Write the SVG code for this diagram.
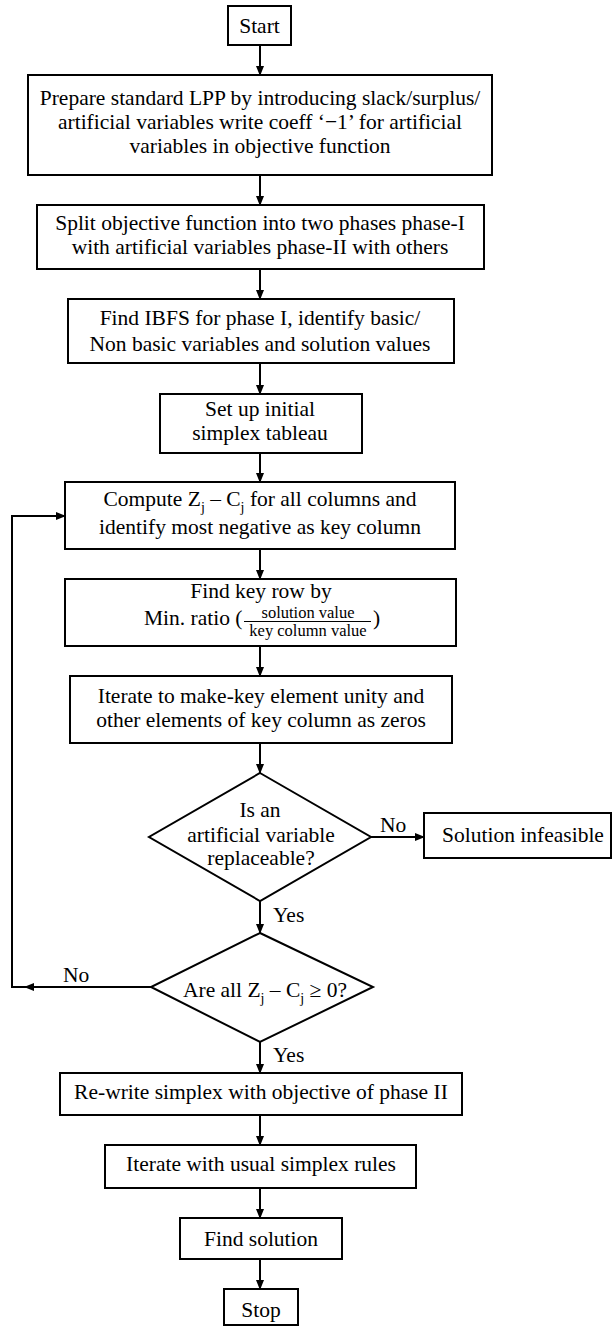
<svg xmlns="http://www.w3.org/2000/svg" width="612" height="1327" viewBox="0 0 612 1327">
<style>
.box{fill:#fff;stroke:#000;stroke-width:2}
.t{font-family:"Liberation Serif","Times New Roman",serif;font-size:21.5px;fill:#000}
.c{text-anchor:middle}
.f{font-family:"Liberation Serif","Times New Roman",serif;font-size:16.5px;fill:#000;text-anchor:middle}
.ln{fill:none;stroke:#000;stroke-width:2}
</style>
<defs>
<marker id="ah" markerUnits="userSpaceOnUse" markerWidth="10" markerHeight="8" refX="9" refY="4" orient="auto">
<path d="M0,0 L10,4 L0,8 Z" fill="#000"/>
</marker>
</defs>
<rect width="612" height="1327" fill="#fff"/>
<g id="connectors">
<line class="ln" x1="260" y1="45" x2="260" y2="75" marker-end="url(#ah)"/>
<line class="ln" x1="260" y1="175" x2="260" y2="205" marker-end="url(#ah)"/>
<line class="ln" x1="260" y1="269" x2="260" y2="299" marker-end="url(#ah)"/>
<line class="ln" x1="260" y1="363" x2="260" y2="394" marker-end="url(#ah)"/>
<line class="ln" x1="260" y1="453" x2="260" y2="482" marker-end="url(#ah)"/>
<line class="ln" x1="260" y1="549" x2="260" y2="579" marker-end="url(#ah)"/>
<line class="ln" x1="260" y1="646" x2="260" y2="676" marker-end="url(#ah)"/>
<line class="ln" x1="260" y1="743" x2="260" y2="773" marker-end="url(#ah)"/>
<line class="ln" x1="371" y1="837" x2="424" y2="837" marker-end="url(#ah)"/>
<line class="ln" x1="260" y1="901" x2="260" y2="933" marker-end="url(#ah)"/>
<path class="ln" d="M151,987 H12 V516 H65" marker-end="url(#ah)"/>
<path d="M24,987 L34,983 L34,991 Z" fill="#000"/>
<line class="ln" x1="260" y1="1042" x2="260" y2="1073" marker-end="url(#ah)"/>
<line class="ln" x1="260" y1="1115" x2="260" y2="1145" marker-end="url(#ah)"/>
<line class="ln" x1="260" y1="1188" x2="260" y2="1218" marker-end="url(#ah)"/>
<line class="ln" x1="260" y1="1259" x2="260" y2="1289" marker-end="url(#ah)"/>
<text class="t" x="380" y="832">No</text>
<text class="t" x="273" y="922">Yes</text>
<text class="t" x="63" y="982">No</text>
<text class="t" x="273" y="1062">Yes</text>
</g>
<g id="start">
<rect class="box" x="228" y="6" width="63" height="39"/>
<text class="t c" x="259.5" y="33">Start</text>
</g>
<g id="prepare">
<rect class="box" x="28" y="75" width="464" height="100"/>
<text class="t c" x="260" y="105">Prepare standard LPP by introducing slack/surplus/</text>
<text class="t c" x="260" y="129">artificial variables write coeff ‘−1’ for artificial</text>
<text class="t c" x="260" y="153">variables in objective function</text>
</g>
<g id="split">
<rect class="box" x="37" y="205" width="447" height="64"/>
<text class="t c" x="260" y="230">Split objective function into two phases phase-I</text>
<text class="t c" x="260" y="254">with artificial variables phase-II with others</text>
</g>
<g id="ibfs">
<rect class="box" x="68" y="299" width="386" height="64"/>
<text class="t c" x="260" y="325">Find IBFS for phase I, identify basic/</text>
<text class="t c" x="260" y="351">Non basic variables and solution values</text>
</g>
<g id="setup">
<rect class="box" x="160" y="394" width="202" height="59"/>
<text class="t c" x="260" y="416">Set up initial</text>
<text class="t c" x="260" y="440">simplex tableau</text>
</g>
<g id="compute">
<rect class="box" x="65" y="482" width="390" height="67"/>
<text class="t c" x="260" y="506">Compute Z<tspan dy="6" font-size="14">j</tspan><tspan dy="-6"> – C</tspan><tspan dy="6" font-size="14">j</tspan><tspan dy="-6"> for all columns and</tspan></text>
<text class="t c" x="260" y="534">identify most negative as key column</text>
</g>
<g id="keyrow">
<rect class="box" x="65" y="579" width="391" height="67"/>
<text class="t c" x="261" y="598">Find key row by</text>
<text class="t" x="144" y="625">Min. ratio (</text>
<text class="f" x="308" y="618">solution value</text>
<line x1="244" y1="621.5" x2="371" y2="621.5" stroke="#000" stroke-width="1.2"/>
<text class="f" x="308" y="636">key column value</text>
<text class="t" x="373" y="625">)</text>
</g>
<g id="iterate1">
<rect class="box" x="70" y="676" width="382" height="67"/>
<text class="t c" x="261" y="703">Iterate to make-key element unity and</text>
<text class="t c" x="261" y="727">other elements of key column as zeros</text>
</g>
<g id="decision1">
<polygon class="box" points="260,773 371,837 260,901 149,837"/>
<text class="t c" x="260" y="817">Is an</text>
<text class="t c" x="261" y="842">artificial variable</text>
<text class="t c" x="261" y="865">replaceable?</text>
</g>
<g id="infeasible">
<rect class="box" x="424" y="813" width="187" height="45"/>
<text class="t c" x="523" y="842">Solution infeasible</text>
</g>
<g id="decision2">
<polygon class="box" points="260,933 373,987 260,1042 151,987"/>
<text class="t c" x="265" y="997">Are all Z<tspan dy="6" font-size="14">j</tspan><tspan dy="-6"> – C</tspan><tspan dy="6" font-size="14">j</tspan><tspan dy="-6"> ≥ 0?</tspan></text>
</g>
<g id="rewrite">
<rect class="box" x="60" y="1073" width="402" height="42"/>
<text class="t c" x="261" y="1099">Re-write simplex with objective of phase II</text>
</g>
<g id="iterate2">
<rect class="box" x="105" y="1145" width="311" height="43"/>
<text class="t c" x="261" y="1171">Iterate with usual simplex rules</text>
</g>
<g id="findsol">
<rect class="box" x="180" y="1218" width="162" height="41"/>
<text class="t c" x="261" y="1246">Find solution</text>
</g>
<g id="stop">
<rect class="box" x="224" y="1289" width="74" height="36"/>
<text class="t c" x="261" y="1317">Stop</text>
</g>
</svg>
